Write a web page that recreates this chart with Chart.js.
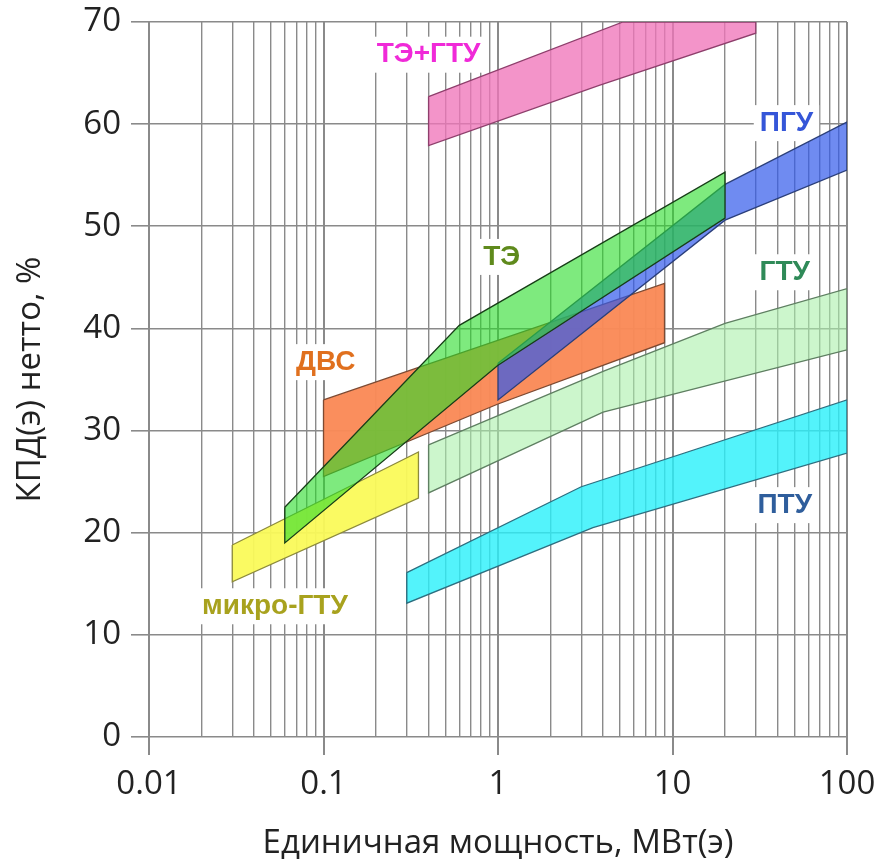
<!DOCTYPE html>
<html>
<head>
<meta charset="utf-8">
<script src="https://cdn.jsdelivr.net/npm/chart.js@4.4.0/dist/chart.umd.min.js"></script>
<style>
  html, body { margin: 0; padding: 0; background: #fff; }
</style>
</head>
<body>
<canvas id="myChart" width="880" height="867"></canvas>
<script>
// границы областей: [мощность МВт, КПД %], верхняя и нижняя линии
var teUpper = [[0.06, 22.5], [0.6, 40.3], [20, 55.3]];
var teLower = [[0.06, 19.0], [1, 36.4], [20, 50.8]];
var pguUpper = [[1, 36.6], [20, 54.1], [100, 60.2]];
var pguLower = [[1, 33.0], [20, 50.6], [100, 55.5]];
var dvsUpper = [[0.1, 33.0], [9, 44.4]];
var dvsLower = [[0.1, 25.5], [1, 32.6], [9, 38.6]];
var mikroUpper = [[0.03, 18.8], [0.35, 27.9]];
var mikroLower = [[0.03, 15.2], [0.35, 23.4]];
var teGtuUpper = [[0.4, 62.7], [5.2, 70], [30, 70]];
var teGtuLower = [[0.4, 57.9], [3.8, 63.8], [30, 68.9]];
var gtuUpper = [[0.4, 28.6], [4, 35.8], [20, 40.5], [100, 43.9]];
var gtuLower = [[0.4, 23.9], [4, 31.8], [100, 37.9]];
var ptuUpper = [[0.3, 16.1], [3, 24.5], [100, 33.0]];
var ptuLower = [[0.3, 13.1], [3.5, 20.5], [100, 27.8]];

var xTickValues = [0.01, 0.1, 1, 10, 100];
var xTickLabels = ['0.01', '0.1', '1', '10', '100'];

var labelText = ['ТЭ+ГТУ', 'ПГУ', 'ТЭ', 'ГТУ', 'ДВС', 'ПТУ', 'микро-ГТУ'];
var labelX = [0.4, 45, 1.05, 44, 0.103, 44, 0.0527];
var labelY = [66.8, 60.1, 47.0, 45.5, 36.7, 22.7, 12.8];
var labelColor = ['#f02ad8', '#3556d8', '#5f8a1c', '#2f8a58', '#e0701e', '#2f5e9c', '#a8a21e'];

// порядок: первый рисуется сверху
var shapes = [
    { upper: teUpper, lower: teLower, bg: 'rgba(40,220,40,0.6)', border: '#173d17' },
    { upper: pguUpper, lower: pguLower, bg: 'rgba(50,90,235,0.7)', border: '#2b3f7a' },
    { upper: dvsUpper, lower: dvsLower, bg: 'rgba(250,138,88,0.97)', border: '#7d4a32' },
    { upper: mikroUpper, lower: mikroLower, bg: 'rgba(250,250,90,0.95)', border: '#8c8a3c' },
    { upper: teGtuUpper, lower: teGtuLower, bg: 'rgba(240,118,186,0.78)', border: '#8e3f6c' },
    { upper: ptuUpper, lower: ptuLower, bg: 'rgba(40,240,250,0.8)', border: '#2d6f80' },
    { upper: gtuUpper, lower: gtuLower, bg: 'rgba(170,240,170,0.6)', border: '#5f7f62' }
];

function polygon(upper, lower) {
    var pts = upper.concat(lower.slice().reverse());
    pts.push(upper[0]);
    return pts.map(p => ({ x: p[0], y: p[1] }));
}

// линии сетки: 1..9 в каждой декаде
var gridValues = [];
for (var d = 0; d < 4; d++) {
    for (var m = 1; m < 10; m++) {
        gridValues.push(Number((m * Math.pow(10, d - 2)).toPrecision(2)));
    }
}
gridValues.push(100);

function isMajor(v) {
    return xTickValues.indexOf(v) >= 0;
}

var labelsPlugin = {
    id: 'areaLabels',
    beforeDatasetsDraw(chart) {
        var ctx = chart.ctx;
        var xs = chart.scales.x, ys = chart.scales.y;
        ctx.save();
        ctx.font = 'bold 28px "Liberation Sans", Arial, sans-serif';
        ctx.textAlign = 'center';
        ctx.textBaseline = 'middle';
        labelText.forEach((t, i) => {
            var px = xs.getPixelForValue(labelX[i]);
            var py = ys.getPixelForValue(labelY[i]);
            var w = ctx.measureText(t).width;
            ctx.fillStyle = '#fff';
            ctx.fillRect(px - w / 2 - 6, py - 18, w + 12, 36);
            ctx.fillStyle = labelColor[i];
            ctx.fillText(t, px, py);
        });
        ctx.restore();
    }
};

var tickFont = { family: '"Open Sans", sans-serif', size: 33 };
var gridColor = '#8a8a8a';

var chartCanvas = document.getElementById('myChart');
var myChart = new Chart(chartCanvas.getContext('2d'), {
    type: 'scatter',
    data: {
        datasets: shapes.map(s => ({
            data: polygon(s.upper, s.lower),
            showLine: true,
            fill: 'shape',
            backgroundColor: s.bg,
            borderColor: s.border,
            borderWidth: 1.3,
            pointRadius: 0,
            tension: 0
        }))
    },
    options: {
        responsive: false,
        animation: false,
        events: [],
        layout: { padding: { top: 22, right: 33, left: 0, bottom: 0 } },
        plugins: { legend: { display: false }, tooltip: { enabled: false } },
        scales: {
            x: {
                type: 'logarithmic',
                min: 0.01,
                max: 100,
                afterBuildTicks: s => {
                    s.ticks = gridValues.map(v => ({ value: v, major: isMajor(v) }));
                },
                afterFit: s => {
                    s.height = 130;
                    s.paddingLeft = 0;
                    s.paddingRight = 0;
                },
                ticks: {
                    autoSkip: false,
                    maxRotation: 0,
                    padding: 10,
                    font: tickFont,
                    color: '#222',
                    callback: v => isMajor(v) ? xTickLabels[xTickValues.indexOf(v)] : ''
                },
                grid: {
                    color: gridColor,
                    lineWidth: c => (c.tick && isMajor(c.tick.value)) ? 2 : 1.4,
                    tickLength: 18,
                    tickWidth: 2,
                    tickColor: c => (c.tick && isMajor(c.tick.value)) ? gridColor : 'rgba(0,0,0,0)'
                },
                border: { display: false },
                title: {
                    display: true,
                    text: 'Единичная мощность, МВт(э)',
                    font: tickFont,
                    color: '#222',
                    padding: { top: 0, bottom: 4 }
                }
            },
            y: {
                min: 0,
                max: 70,
                afterFit: s => {
                    s.width = 149;
                    s.paddingTop = 0;
                    s.paddingBottom = 0;
                },
                ticks: { stepSize: 10, padding: 10, font: tickFont, color: '#222' },
                grid: { color: gridColor, lineWidth: 1.6, tickLength: 18 },
                border: { display: false },
                title: {
                    display: true,
                    text: 'КПД(э) нетто, %',
                    font: tickFont,
                    color: '#222',
                    padding: { top: 11, bottom: 0 }
                }
            }
        }
    },
    plugins: [labelsPlugin]
});
</script>
</body>
</html>
